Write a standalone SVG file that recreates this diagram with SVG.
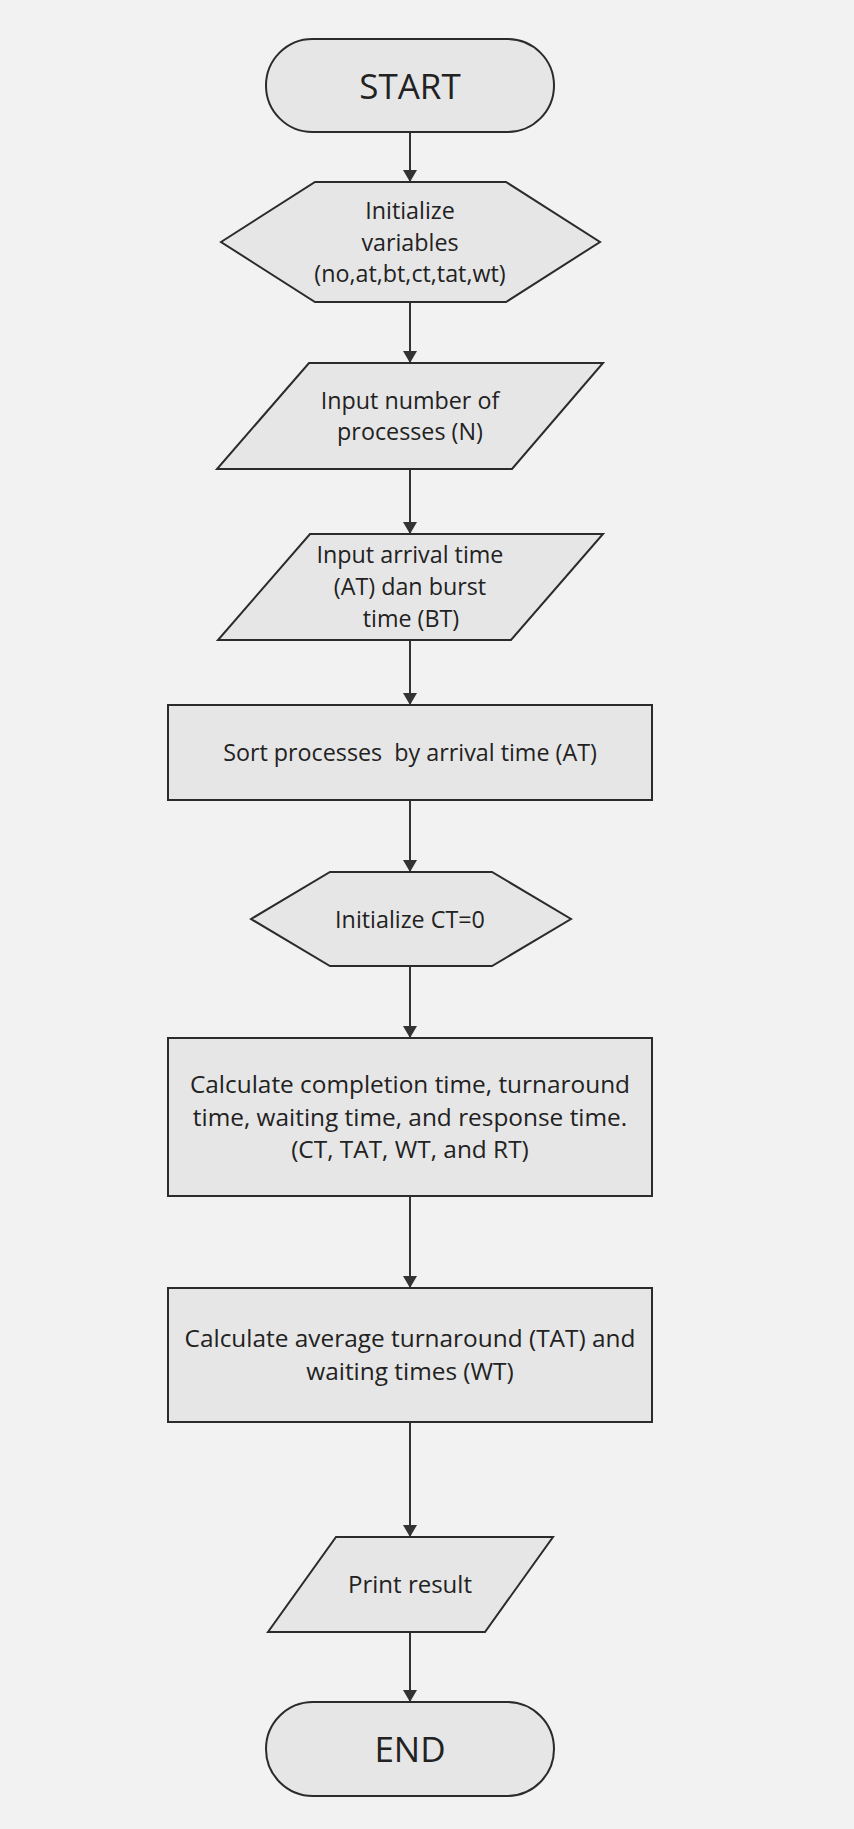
<svg xmlns="http://www.w3.org/2000/svg" width="854" height="1829" viewBox="0 0 854 1829">
<style>
.shape{fill:#e6e6e6;stroke:#2b2b2b;stroke-width:2;stroke-linejoin:miter}
.t{font-family:"Open Sans","Noto Sans","DejaVu Sans",sans-serif;font-size:23.3px;fill:#222;text-anchor:middle}
.m{font-size:24.4px}
.big{font-size:35px}
.conn{stroke:#333;stroke-width:2;fill:none}
</style>
<defs>
<marker id="arrow" markerUnits="userSpaceOnUse" markerWidth="12" markerHeight="14" viewBox="0 0 12 14" refX="12" refY="7" orient="auto">
<path d="M0,0 L12,7 L0,14 Z" fill="#333"/>
</marker>
</defs>
<rect width="854" height="1829" fill="#f2f2f2"/>
<g id="connectors">
<line class="conn" x1="410" y1="132" x2="410" y2="182" marker-end="url(#arrow)"/>
<line class="conn" x1="410" y1="302" x2="410" y2="363" marker-end="url(#arrow)"/>
<line class="conn" x1="410" y1="469" x2="410" y2="534" marker-end="url(#arrow)"/>
<line class="conn" x1="410" y1="640" x2="410" y2="705" marker-end="url(#arrow)"/>
<line class="conn" x1="410" y1="800" x2="410" y2="872" marker-end="url(#arrow)"/>
<line class="conn" x1="410" y1="966" x2="410" y2="1038" marker-end="url(#arrow)"/>
<line class="conn" x1="410" y1="1196" x2="410" y2="1288" marker-end="url(#arrow)"/>
<line class="conn" x1="410" y1="1422" x2="410" y2="1537" marker-end="url(#arrow)"/>
<line class="conn" x1="410" y1="1632" x2="410" y2="1702" marker-end="url(#arrow)"/>
</g>
<g id="start">
<rect class="shape" x="266" y="39" width="288" height="93" rx="46.5" ry="46.5"/>
<text class="t big" x="410" y="99">START</text>
</g>
<g id="init-vars">
<polygon class="shape" points="221,242 315,182 506,182 600,242 506,302 315,302"/>
<text class="t" x="410" y="219">Initialize</text>
<text class="t" x="410" y="251">variables</text>
<text class="t" x="410" y="282">(no,at,bt,ct,tat,wt)</text>
</g>
<g id="input-n">
<polygon class="shape" points="309,363 603,363 512,469 217,469"/>
<text class="t" x="410" y="409">Input number of</text>
<text class="t" x="410" y="440">processes (N)</text>
</g>
<g id="input-at-bt">
<polygon class="shape" points="310,534 603,534 511,640 218,640"/>
<text class="t" x="410" y="563">Input arrival time</text>
<text class="t" x="410" y="595">(AT) dan burst</text>
<text class="t" x="411" y="627">time (BT)</text>
</g>
<g id="sort">
<rect class="shape" x="168" y="705" width="484" height="95"/>
<text class="t" x="410" y="761" style="white-space:pre" xml:space="preserve">Sort processes  by arrival time (AT)</text>
</g>
<g id="init-ct">
<polygon class="shape" points="251,919 330,872 492,872 571,919 492,966 330,966"/>
<text class="t" x="410" y="928">Initialize CT=0</text>
</g>
<g id="calc-times">
<rect class="shape" x="168" y="1038" width="484" height="158"/>
<text class="t m" x="410" y="1093">Calculate completion time, turnaround</text>
<text class="t m" x="410" y="1126">time, waiting time, and response time.</text>
<text class="t m" x="410" y="1158">(CT, TAT, WT, and RT)</text>
</g>
<g id="calc-avg">
<rect class="shape" x="168" y="1288" width="484" height="134"/>
<text class="t m" x="410" y="1347">Calculate average turnaround (TAT) and</text>
<text class="t m" x="410" y="1380">waiting times (WT)</text>
</g>
<g id="print">
<polygon class="shape" points="336,1537 553,1537 485,1632 268,1632"/>
<text class="t" x="410" y="1593" style="font-size:24px">Print result</text>
</g>
<g id="end">
<rect class="shape" x="266" y="1702" width="288" height="94" rx="47" ry="47"/>
<text class="t big" x="410" y="1762">END</text>
</g>
</svg>
